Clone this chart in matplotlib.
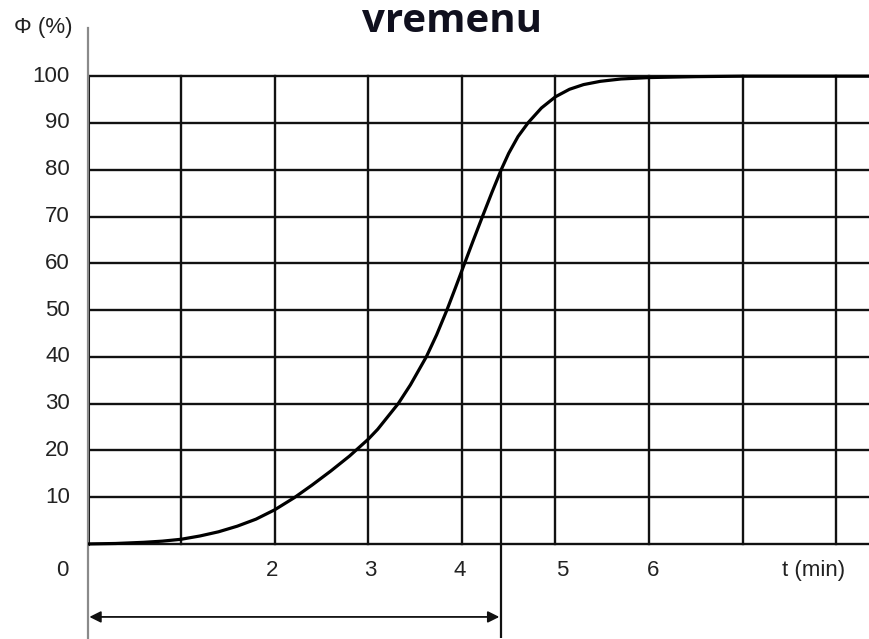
import matplotlib
matplotlib.use('Agg')
import matplotlib.pyplot as plt

# Curve: time (min) vs. percentage (%)
t_min = [0.0, 0.3, 0.6, 0.8, 1.0, 1.2, 1.4, 1.6, 1.8, 2.0, 2.21, 2.4, 2.6,
         2.8, 3.0, 3.1, 3.2, 3.32, 3.45, 3.62, 3.73, 3.84, 3.93, 4.02, 4.12,
         4.22, 4.32, 4.42, 4.5, 4.6, 4.71, 4.85, 5.0, 5.15, 5.3, 5.48, 5.7,
         6.0, 6.5, 7.0, 8.4]
phi_pct = [0.0, 0.1, 0.35, 0.6, 1.0, 1.7, 2.6, 3.8, 5.3, 7.3, 9.9, 12.6, 15.6,
           18.8, 22.4, 24.5, 27.0, 30.0, 34.0, 40.0, 44.7, 50.0, 54.7, 59.5, 64.8,
           70.0, 75.1, 80.0, 83.5, 87.1, 90.1, 93.2, 95.6, 97.2, 98.2, 98.9, 99.4,
           99.7, 99.9, 100.0, 100.0]

y_grid = [0, 10, 20, 30, 40, 50, 60, 70, 80, 90, 100]
y_labels = ['10', '20', '30', '40', '50', '60', '70', '80', '90', '100']
x_grid = [0, 1, 2, 3, 4, 5, 6, 7, 8]
x_label_pos = [1.97, 3.02, 3.98, 5.07, 6.04]
x_labels = ['2', '3', '4', '5', '6']
t_mark = 4.42
phi_mark = 80

X_MAX = 8.35
Y_MIN, Y_MAX = -20.1, 110.3

fig = plt.figure(figsize=(8.69, 6.39), dpi=100, facecolor='white')
ax = fig.add_axes([0.1007, 0.0016, 0.8993, 0.9546])
ax.set_xlim(0, X_MAX)
ax.set_ylim(Y_MIN, Y_MAX)

# Spines: only a gray left axis line
for side in ('top', 'right', 'bottom'):
    ax.spines[side].set_visible(False)
ax.spines['left'].set_color('#8a8a8a')
ax.spines['left'].set_linewidth(1.6)
ax.set_xticks([])
ax.set_yticks([])

# Grid
for y in y_grid:
    ax.plot([0, X_MAX], [y, y], color='#111111', lw=1.7, zorder=2)
for x in x_grid:
    ax.plot([x, x], [0, 100], color='#111111', lw=2.2 if x == 0 else 1.7, zorder=2)

# Curve
ax.plot(t_min, phi_pct, color='black', lw=2.3, zorder=3,
        solid_capstyle='round', solid_joinstyle='round')

# Marker line and arrow
ax.plot([t_mark, t_mark], [Y_MIN, phi_mark], color='#111111', lw=1.6, zorder=2)
ax.annotate('', xy=(0.02, -15.6), xytext=(t_mark - 0.02, -15.6),
            arrowprops=dict(arrowstyle='<|-|>', color='#111111', lw=1.3,
                            mutation_scale=17, shrinkA=0, shrinkB=0))

font = dict(family='Liberation Sans', fontsize=16, color='#222222')

# Y tick labels
for y, lab in zip(y_grid[1:], y_labels):
    ax.text(-0.188, y, lab, ha='right', va='center', clip_on=False, **font)
ax.text(-0.27, -5.6, '0', ha='center', va='center', clip_on=False, **font)

# X tick labels
for x, lab in zip(x_label_pos, x_labels):
    ax.text(x, -5.6, lab, ha='center', va='center', **font)
ax.text(7.76, -5.6, 't (min)', ha='center', va='center', **font)

# Axis caption and (cut-off) title
fig.text(43 / 869, 1 - 28 / 639, 'Φ (%)', ha='center', va='center', **font)
fig.text(452 / 869, 1 - 32 / 639, 'vremenu', ha='center', va='baseline',
         family='Open Sans', fontweight='bold', fontsize=29, color='#10101e')

fig.savefig('out.png', dpi=100, facecolor='white')
